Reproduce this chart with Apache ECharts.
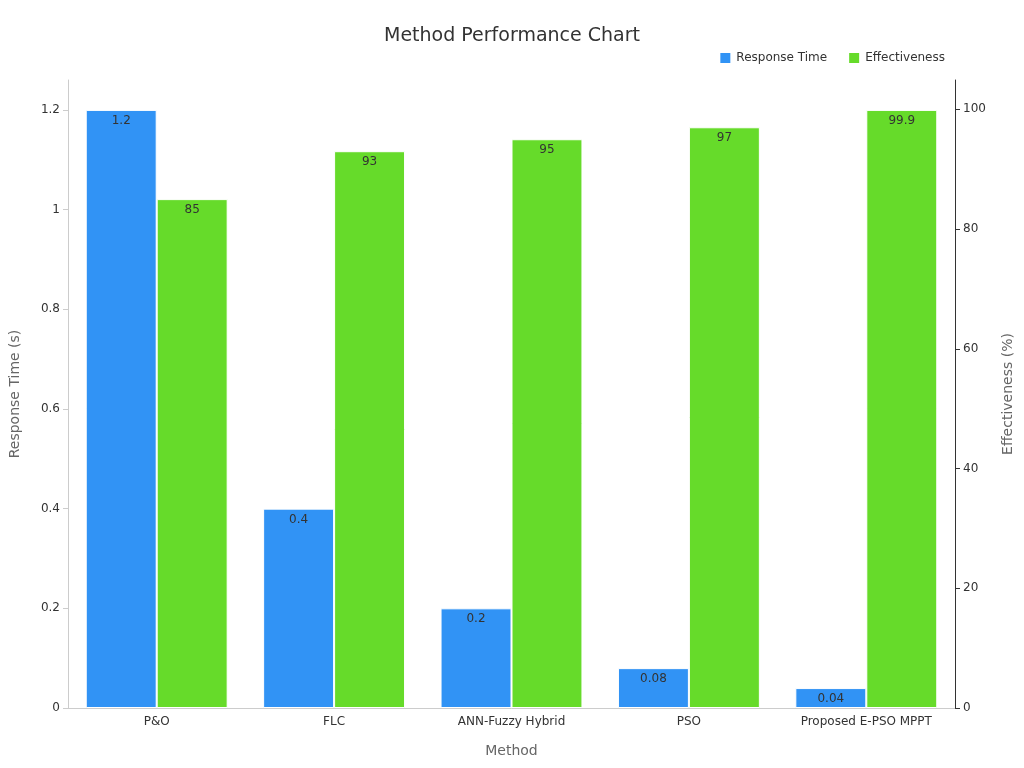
<!DOCTYPE html>
<html><head><meta charset="utf-8">
<script src="https://cdn.jsdelivr.net/npm/echarts@6/dist/echarts.min.js"></script>
<style>html,body{margin:0;padding:0}#c{width:1024px;height:768px}</style>
</head><body><div id="c"></div>
<script>
const categories = ["P&O", "FLC", "ANN-Fuzzy Hybrid", "PSO", "Proposed E-PSO MPPT"];
const responseTime = [1.2, 0.4, 0.2, 0.08, 0.04];
const effectiveness = [85, 93, 95, 97, 99.9];
const chart = echarts.init(document.getElementById('c'));
const font = "DejaVu Sans";
chart.setOption({
  textStyle: { fontFamily: font },
  title: { text: "Method Performance Chart", left: "center", top: 22, textStyle: { fontSize: 19, fontWeight: "normal", color: "#333", fontFamily: font } },
  legend: { top: 46, right: 74, itemWidth: 12, itemHeight: 12, icon: "rect", itemGap: 20, textStyle: { fontSize: 12, color: "#333" } },
  grid: { left: 64, right: 69, top: 80, bottom: 60 },
  xAxis: { type: "category", data: categories, name: "Method", nameLocation: "middle", nameGap: 36,
    nameTextStyle: { fontSize: 14, color: "#666" },
    axisTick: { show: false }, axisLine: { lineStyle: { color: "#ccc" } },
    axisLabel: { color: "#333", fontSize: 12 } },
  yAxis: [
    { type: "value", name: "Response Time (s)", nameLocation: "middle", nameGap: 46, nameTextStyle: { fontSize: 14, color: "#666" },
      min: 0, max: v => v.max * 1.05, interval: 0.2, splitLine: { show: false },
      axisLine: { show: true, lineStyle: { color: "#ccc" } }, axisTick: { show: true, lineStyle: { color: "#ccc" } },
      axisLabel: { color: "#333", fontSize: 12, showMaxLabel: false } },
    { type: "value", name: "Effectiveness (%)", nameLocation: "middle", nameGap: 46, nameTextStyle: { fontSize: 14, color: "#666" },
      min: 0, max: v => v.max * 1.05, interval: 20, splitLine: { show: false },
      axisLine: { show: true, lineStyle: { color: "#333" } }, axisTick: { show: true, lineStyle: { color: "#333" } },
      axisLabel: { color: "#333", fontSize: 12, showMaxLabel: false } }
  ],
  series: [
    { name: "Response Time", type: "bar", data: responseTime, yAxisIndex: 0, barGap: "0%", barCategoryGap: "20%",
      itemStyle: { color: "#3193f5", borderColor: "#fff", borderWidth: 1 },
      label: { show: true, position: "insideTop", color: "#333", fontSize: 12 } },
    { name: "Effectiveness", type: "bar", data: effectiveness, yAxisIndex: 1,
      itemStyle: { color: "#66db2a", borderColor: "#fff", borderWidth: 1 },
      label: { show: true, position: "insideTop", color: "#333", fontSize: 12 } }
  ]
});
</script></body></html>
